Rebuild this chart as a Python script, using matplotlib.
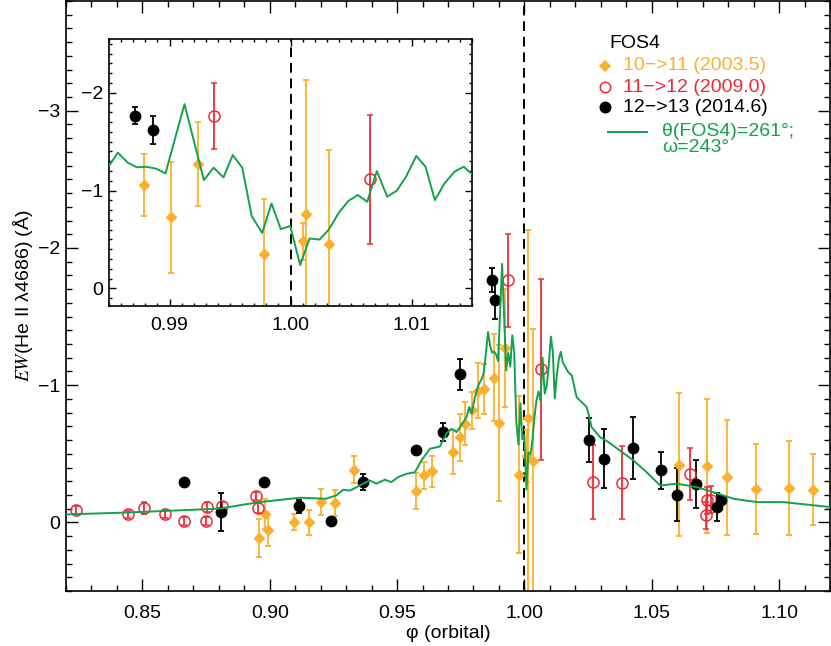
import matplotlib
matplotlib.use('Agg')
import matplotlib.pyplot as plt
from matplotlib.lines import Line2D
from matplotlib.ticker import MultipleLocator

plt.rcParams['font.family'] = ['Liberation Sans', 'DejaVu Sans']
plt.rcParams['mathtext.fontset'] = 'stix'
plt.rcParams['font.size'] = 14

ORANGE = '#FBB02D'
RED = '#EE2A35'
GREEN = '#13A24B'

# cycle 10->11 (2003.5): orange diamonds
phase_c11 = [0.8958, 0.8983, 0.8995, 0.9097, 0.9155, 0.9203, 0.9257, 0.9330,
             0.9574, 0.9605, 0.9636, 0.9718, 0.9747, 0.9766, 0.9793, 0.9819,
             0.9841, 0.98793, 0.99014, 0.99237, 0.99779, 1.00107, 1.00124,
             1.00322, 1.0607, 1.0716, 1.0795, 1.0909, 1.1038, 1.1135]
ew_c11 = [0.112, -0.063, 0.058, -0.002, 0.000, -0.148, -0.141, -0.384,
          -0.228, -0.342, -0.374, -0.512, -0.621, -0.719, -0.816, -0.961,
          -0.973, -1.056, -0.725, -1.268, -0.349, -0.482, -0.759,
          -0.451, -0.42, -0.41, -0.328, -0.245, -0.25, -0.238]
err_c11 = [0.14, 0.11, 0.117, 0.056, 0.089, 0.097, 0.097, 0.10,
           0.134, 0.095, 0.113, 0.16, 0.17, 0.155, 0.134, 0.20,
           0.18, 0.32, 0.57, 0.43, 0.57, 0.19, 1.37,
           0.96, 0.52, 0.49, 0.42, 0.33, 0.34, 0.26]

# cycle 11->12 (2009.0): red open circles
phase_c12 = [0.8241, 0.8443, 0.8506, 0.8588, 0.8663, 0.8755, 0.8748, 0.8813,
             0.8948, 0.8953, 0.99366, 1.00653, 1.0270, 1.0382, 1.0651,
             1.0713, 1.0716, 1.0733]
ew_c12 = [-0.092, -0.058, -0.104, -0.063, -0.012, -0.112, -0.010, -0.117,
          -0.192, -0.104, -1.764, -1.115, -0.294, -0.289, -0.35,
          -0.051, -0.160, -0.165]
err_c12 = [0.03, 0.025, 0.045, 0.03, 0.03, 0.035, 0.03, 0.035,
           0.03, 0.035, 0.34, 0.66, 0.27, 0.265, 0.19,
           0.1, 0.1, 0.1]

# cycle 12->13 (2014.6): black filled circles
phase_c13 = [0.8662, 0.8810, 0.8978, 0.9115, 0.9241, 0.9367, 0.9573, 0.9681,
             0.9749, 0.98711, 0.98862, 1.0255, 1.0314, 1.0428, 1.0535,
             1.0601, 1.0674, 1.0755, 1.0772]
ew_c13 = [-0.294, -0.075, -0.294, -0.117, -0.010, -0.294, -0.529, -0.658,
          -1.078, -1.767, -1.620, -0.602, -0.464, -0.541, -0.379,
          -0.201, -0.282, -0.112, -0.165]
err_c13 = [0.0, 0.14, 0.0, 0.045, 0.0, 0.06, 0.0, 0.065,
           0.11, 0.085, 0.14, 0.16, 0.215, 0.225, 0.137,
           0.194, 0.174, 0.10, 0.03]

# model curve theta(FOS4)=261, omega=243
model_phase = [0.820, 0.844, 0.880, 0.896, 0.912, 0.922, 0.9262, 0.9288,
               0.9315, 0.9367, 0.9393, 0.9419, 0.9452, 0.9478, 0.9504, 0.9537,
               0.9570, 0.9596, 0.9629, 0.9668, 0.9695, 0.9714, 0.9734, 0.9760,
               0.9773, 0.9783, 0.9793, 0.9806, 0.9819, 0.9832, 0.9841,
               0.98499, 0.98573, 0.98656, 0.98730, 0.98807, 0.98890, 0.98967,
               0.99124, 0.99284, 0.99364, 0.99446, 0.99523, 0.99601, 0.99680,
               0.99766, 0.99843, 0.99920, 0.99997, 1.00080, 1.00157, 1.00240,
               1.00317, 1.00399, 1.00477, 1.00556, 1.00634, 1.00713, 1.00799,
               1.00879, 1.00956, 1.01039, 1.01116, 1.01193, 1.01273, 1.01355,
               1.01432, 1.01499, 1.0172, 1.0186, 1.0205, 1.0218, 1.0245,
               1.0264, 1.0297, 1.0330, 1.0375, 1.0428, 1.0480, 1.0533,
               1.0598, 1.0677, 1.0742, 1.0821, 1.0913, 1.1017, 1.120]
model_ew = [-0.058, -0.072, -0.100, -0.148, -0.180, -0.172, -0.197, -0.238,
            -0.232, -0.282, -0.306, -0.282, -0.311, -0.294, -0.330, -0.354,
            -0.366, -0.452, -0.537, -0.553, -0.650, -0.682, -0.658, -0.731,
            -0.767, -0.840, -0.796, -0.913, -0.998, -1.046, -1.095,
            -1.251, -1.388, -1.285, -1.238, -1.244, -1.224, -1.176,
            -1.884, -1.108, -1.234, -1.135, -1.364, -1.234, -0.738,
            -0.567, -0.868, -0.605, -0.639, -0.240, -0.510, -0.499,
            -0.602, -0.773, -0.893, -0.955, -0.886, -1.200, -0.938,
            -1.000, -1.144, -1.354, -1.244, -0.903, -1.074, -1.193,
            -1.244, -1.169, -1.095, -1.071, -0.913, -0.889, -0.840,
            -0.694, -0.621, -0.585, -0.524, -0.452, -0.366, -0.269,
            -0.282, -0.257, -0.221, -0.172, -0.148, -0.148, -0.112]


def draw_data(ax):
    ax.errorbar(phase_c11, ew_c11, yerr=err_c11, fmt='D', ms=5.5, color=ORANGE,
                ecolor=ORANGE, elinewidth=1.3, capsize=2.5, capthick=1.3, zorder=2)
    ax.errorbar(phase_c12, ew_c12, yerr=err_c12, fmt='o', ms=8, mfc='none',
                mec=RED, mew=1.1, ecolor=RED, elinewidth=1.3, capsize=2.5,
                capthick=1.3, zorder=2)
    ax.errorbar(phase_c13, ew_c13, yerr=err_c13, fmt='o', ms=7.5, color='black',
                ecolor='black', elinewidth=1.3, capsize=2.5, capthick=1.3, zorder=2)
    ax.plot(model_phase, model_ew, color=GREEN, lw=1.4, zorder=3)
    ax.axvline(1.0, color='black', ls=(0, (5, 3)), lw=1.4, zorder=1)


def style_axes(ax, major, minor, pad, length):
    ax.tick_params(which='both', direction='in', top=True, right=True, width=1.0)
    ax.tick_params(which='major', length=length, pad=pad)
    ax.tick_params(which='minor', length=length / 2)
    ax.tick_params(axis='y', pad=4)
    ax.xaxis.set_major_locator(MultipleLocator(major))
    ax.xaxis.set_minor_locator(MultipleLocator(minor))
    ax.yaxis.set_major_locator(MultipleLocator(1))
    ax.yaxis.set_minor_locator(MultipleLocator(0.1))
    for s in ax.spines.values():
        s.set_linewidth(1.2)


fig = plt.figure(figsize=(8.31, 6.46), dpi=100)
W, H = 831.0, 646.0

ax = fig.add_axes([66 / W, 1 - 591 / H, 764 / W, 590 / H])
draw_data(ax)
ax.set_xlim(0.82, 1.12)
ax.set_ylim(0.5, -3.8)
style_axes(ax, 0.05, 0.01, 10, 8.5)
ax.xaxis.set_major_formatter(matplotlib.ticker.FormatStrFormatter('%.2f'))
ax.set_xlabel('φ (orbital)', labelpad=2)
ax.set_ylabel(r'$\mathit{EW}$(He II λ4686) (Å)', labelpad=2)

axin = fig.add_axes([109 / W, 1 - 306 / H, 363 / W, 267 / H])
draw_data(axin)
axin.set_xlim(0.985, 1.015)
axin.set_ylim(0.18, -2.55)
style_axes(axin, 0.01, 0.001, 8, 5)
axin.xaxis.set_major_formatter(matplotlib.ticker.FormatStrFormatter('%.2f'))

# legend block (top right)
fig.text(609 / W, 1 - 43 / H, 'FOS4', color='black', va='center', ha='left')
legend_rows = [('D', ORANGE, ORANGE, '10−>11 (2003.5)', 66),
               ('o', 'none', RED, '11−>12 (2009.0)', 87),
               ('o', 'black', 'black', '12−>13 (2014.6)', 107)]
for mk, fc, ec, label, py in legend_rows:
    fig.add_artist(Line2D([605 / W], [1 - py / H], marker=mk,
                          ms=5.5 if mk == 'D' else 7.5, mfc=fc, mec=ec, mew=1.1,
                          transform=fig.transFigure))
    fig.text(623 / W, 1 - py / H, label, color=ec, va='center', ha='left')
fig.add_artist(Line2D([608 / W, 647 / W], [1 - 132 / H, 1 - 132 / H], color=GREEN,
                      lw=1.4, transform=fig.transFigure))
fig.text(662 / W, 1 - 131 / H, 'θ(FOS4)=261°;', color=GREEN, va='center', ha='left')
fig.text(662 / W, 1 - 148 / H, 'ω=243°', color=GREEN, va='center', ha='left')

fig.savefig('out.png', dpi=100)
